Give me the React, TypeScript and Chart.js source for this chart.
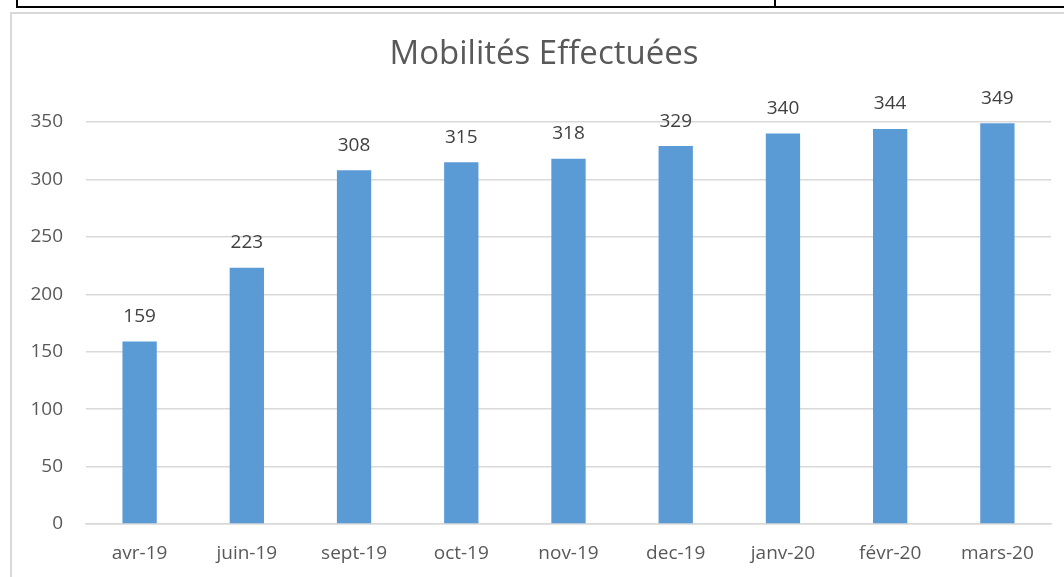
import React, { useEffect, useRef } from "react";
import { Chart, registerables } from "chart.js";

Chart.register(...registerables);

const chartTitle = "Mobilités Effectuées";
const categories = ["avr-19", "juin-19", "sept-19", "oct-19", "nov-19", "dec-19", "janv-20", "févr-20", "mars-20"];
const values = [159, 223, 308, 315, 318, 329, 340, 344, 349];
const yTicks = [0, 50, 100, 150, 200, 250, 300, 350];
const tableLabel = "Total";
const tableValue = "429";

const FONT = "'Open Sans', 'Noto Sans', sans-serif";

const dataLabelPlugin = {
  id: "dataLabels",
  afterDatasetsDraw(chart: any) {
    const { ctx } = chart;
    const meta = chart.getDatasetMeta(0);
    ctx.save();
    ctx.font = `19px ${FONT}`;
    ctx.fillStyle = "#404040";
    ctx.textAlign = "center";
    ctx.textBaseline = "middle";
    meta.data.forEach((bar: any, i: number) => {
      ctx.fillText(String(chart.data.datasets[0].data[i]), bar.x, bar.y - 25);
    });
    ctx.restore();
  },
};

const titlePlugin = {
  id: "customTitle",
  afterDraw(chart: any) {
    const { ctx } = chart;
    ctx.save();
    ctx.font = `33px ${FONT}`;
    ctx.fillStyle = "#595959";
    ctx.textAlign = "center";
    ctx.textBaseline = "middle";
    ctx.fillText(chartTitle, 533, 42);
    ctx.restore();
  },
};

export default function App() {
  const ref = useRef<HTMLCanvasElement | null>(null);
  useEffect(() => {
    if (!ref.current) return;
    const chart = new Chart(ref.current, {
      type: "bar",
      data: {
        labels: categories,
        datasets: [
          {
            data: values,
            backgroundColor: "#5B9BD5",
            borderWidth: 0,
            categoryPercentage: 1,
            barPercentage: 0.32,
          },
        ],
      },
      options: {
        animation: false,
        responsive: false,
        maintainAspectRatio: false,
        layout: { padding: { top: 109, right: 13, left: 0, bottom: 0 } },
        plugins: {
          legend: { display: false },
          tooltip: { enabled: false },
          title: { display: false },
        },
        scales: {
          x: {
            grid: { display: false, drawTicks: false },
            border: { display: true, color: "#D9D9D9", width: 1.5 },
            ticks: { color: "#595959", font: { family: FONT, size: 19 }, padding: 18, maxRotation: 0, autoSkip: false },
            afterFit(scale: any) {
              scale.height = 53;
            },
          },
          y: {
            min: 0,
            max: 350,
            afterBuildTicks(scale: any) {
              scale.ticks = yTicks.map((v) => ({ value: v }));
            },
            grid: { color: "#D9D9D9", lineWidth: 1.5, drawTicks: false },
            border: { display: false },
            ticks: { color: "#595959", font: { family: FONT, size: 19 }, padding: 23 },
            afterFit(scale: any) {
              scale.width = 75;
            },
          },
        },
      },
      plugins: [dataLabelPlugin, titlePlugin],
    });
    return () => chart.destroy();
  }, []);

  return (
    <div style={{ position: "fixed", left: 0, top: 0, width: 1064, height: 577, overflow: "hidden", background: "#fff" }}>
      {/* table remnant at top */}
      <div
        style={{
          position: "absolute",
          left: 16,
          top: -20,
          width: 1060,
          height: 28,
          borderLeft: "2px solid #000",
          borderBottom: "2px solid #000",
          boxSizing: "border-box",
        }}
      >
        <div
          style={{
            position: "absolute",
            left: 756,
            top: 0,
            height: 28,
            borderLeft: "2px solid #000",
          }}
        />
        <div style={{ position: "absolute", left: 18, top: 0, font: `bold 20px 'Liberation Sans', Arial, sans-serif`, color: "#000" }}>
          {tableLabel}
        </div>
        <div style={{ position: "absolute", left: 1003, top: 0, font: `bold 20px 'Liberation Sans', Arial, sans-serif`, color: "#000" }}>
          {tableValue}
        </div>
      </div>
      {/* chart frame */}
      <div
        style={{
          position: "absolute",
          left: 10,
          top: 12,
          width: 1070,
          height: 580,
          border: "2px solid #D9D9D9",
          boxSizing: "border-box",
        }}
      />
      <canvas ref={ref} width={1053} height={564} style={{ position: "absolute", left: 11, top: 13, width: 1053, height: 564 }} />
    </div>
  );
}
